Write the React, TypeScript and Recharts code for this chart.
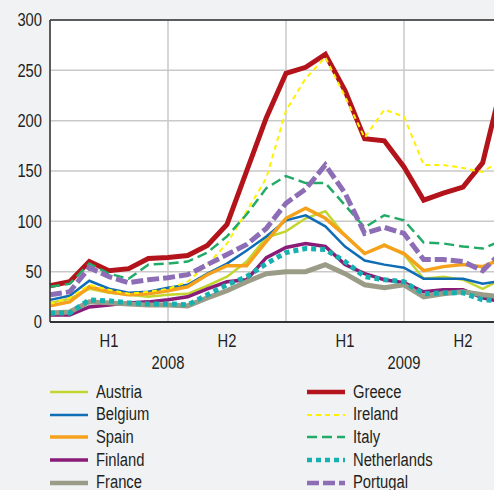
import { CartesianGrid, Line, LineChart, ReferenceLine, XAxis, YAxis } from 'recharts'

// monthly observations, Jan 2008 .. Dec 2009
const months = [
  '2008-01', '2008-02', '2008-03', '2008-04', '2008-05', '2008-06',
  '2008-07', '2008-08', '2008-09', '2008-10', '2008-11', '2008-12',
  '2009-01', '2009-02', '2009-03', '2009-04', '2009-05', '2009-06',
  '2009-07', '2009-08', '2009-09', '2009-10', '2009-11', '2009-12',
]

const austria = [19, 23, 33, 29, 27, 25, 27, 28, 36, 45, 60, 84, 90, 103, 110, 86, 68, 77, 67, 43, 45, 42, 33, 43]
const belgium = [22, 26, 41, 33, 29, 30, 34, 37, 48, 58, 71, 85, 101, 106, 95, 75, 61, 57, 54, 43, 43, 43, 38, 41]
const spain = [16, 20, 35, 30, 27, 28, 31, 35, 47, 56, 56, 80, 103, 113, 103, 86, 68, 76, 68, 51, 55, 57, 55, 63]
const finland = [7, 7, 15, 17, 19, 20, 22, 25, 33, 40, 42, 64, 74, 78, 75, 57, 48, 42, 39, 30, 32, 32, 24, 20]
const france = [9, 10, 20, 19, 18, 17, 17, 16, 24, 31, 40, 48, 50, 50, 57, 48, 37, 34, 37, 25, 28, 30, 27, 25]
const greece = [36, 40, 60, 51, 53, 63, 64, 66, 76, 97, 150, 203, 247, 253, 266, 230, 182, 180, 154, 121, 128, 134, 158, 238]
const ireland = [18, 24, 37, 32, 28, 30, 33, 40, 57, 78, 110, 143, 210, 242, 263, 224, 183, 211, 204, 156, 156, 153, 149, 162]
const italy = [35, 38, 58, 48, 43, 57, 58, 60, 69, 85, 107, 133, 145, 138, 138, 116, 94, 106, 101, 79, 78, 75, 73, 81]
const netherlands = [9, 9, 22, 21, 19, 18, 18, 17, 27, 37, 45, 58, 69, 73, 72, 60, 45, 42, 40, 28, 29, 29, 22, 21]
const portugal = [27, 30, 54, 45, 39, 42, 44, 47, 57, 67, 77, 93, 118, 132, 156, 128, 88, 94, 88, 62, 62, 60, 51, 70]

const yTicks = [0, 50, 100, 150, 200, 250, 300]
const halfTicks = [3, 9, 15, 21]
const halfLabels = ['H1', 'H2', 'H1', 'H2']
const yearTicks = [6, 18]
const yearLabels = ['2008', '2009']
const halfBoundaries = [6, 12, 18]

const series = [
  { key: 'Austria', values: austria, color: '#c3d62f', width: 2.5, dash: undefined },
  { key: 'Belgium', values: belgium, color: '#0f6db6', width: 2.5, dash: undefined },
  { key: 'Spain', values: spain, color: '#f6a11c', width: 3.5, dash: undefined },
  { key: 'Finland', values: finland, color: '#8a1c78', width: 3.5, dash: undefined },
  { key: 'France', values: france, color: '#9b9c87', width: 5, dash: undefined },
  { key: 'Greece', values: greece, color: '#b3131b', width: 5, dash: undefined },
  { key: 'Ireland', values: ireland, color: '#fff000', width: 2, dash: '5 4' },
  { key: 'Italy', values: italy, color: '#21ab67', width: 2.5, dash: '10 5' },
  { key: 'Netherlands', values: netherlands, color: '#14b1b0', width: 5, dash: '5 4' },
  { key: 'Portugal', values: portugal, color: '#8d6eb6', width: 5, dash: '12 4' },
]

const data = months.map((m, i) => {
  const row: Record<string, number | string> = { month: m, t: i }
  series.forEach((s) => {
    row[s.key] = s.values[i]
  })
  return row
})

// no condensed face installed, so squeeze Liberation Sans horizontally
const FONT = '"Liberation Sans", Arial, sans-serif'
const SQUEEZE = 0.82
const INK = '#231f20'

const narrowTick =
  (anchor: 'middle' | 'end', dy: string, fmt: (v: number) => string) =>
  (props: any) => {
    const { x, y, payload } = props
    return (
      <g transform={`translate(${x},${y})`}>
        <text
          transform={`scale(${SQUEEZE},1)`}
          textAnchor={anchor}
          dy={dy}
          fill={INK}
          fontSize={18}
          fontFamily={FONT}
        >
          {fmt(payload.value)}
        </text>
      </g>
    )
  }

const LegendItem = ({ s }: { s: (typeof series)[number] }) => (
  <div style={{ display: 'flex', alignItems: 'center', height: 22.6 }}>
    <svg width={38} height={8} style={{ marginRight: 8, flex: 'none' }}>
      <line
        x1={0}
        x2={38}
        y1={4}
        y2={4}
        stroke={s.color}
        strokeWidth={Math.min(s.width, 4.5)}
        strokeDasharray={s.dash}
      />
    </svg>
    <span
      style={{
        display: 'inline-block',
        whiteSpace: 'nowrap',
        transform: `scaleX(${SQUEEZE})`,
        transformOrigin: 'left center',
      }}
    >
      {s.key}
    </span>
  </div>
)

export default function App() {
  const left = series.slice(0, 5)
  const right = series.slice(5)
  return (
    <div
      style={{
        position: 'absolute',
        left: 0,
        top: 0,
        width: 494,
        height: 490,
        overflow: 'hidden',
        background: '#f1f2f4',
        fontFamily: FONT,
        color: INK,
      }}
    >
      <LineChart width={522} height={378} data={data} margin={{ top: 20, right: 0, left: 0, bottom: 0 }}>
        <CartesianGrid
          xAxisId="grid"
          stroke="#c9c9c9"
          strokeWidth={1.5}
          fill="#fff"
          horizontalValues={yTicks}
        />
        <XAxis
          dataKey="t"
          type="number"
          domain={[0, 24]}
          ticks={halfTicks}
          tick={narrowTick('middle', '0.71em', (v) => halfLabels[halfTicks.indexOf(v)])}
          tickLine={false}
          tickMargin={6}
          height={26}
          axisLine={{ stroke: '#333', strokeWidth: 2 }}
          interval={0}
        />
        <XAxis
          xAxisId="year"
          dataKey="t"
          type="number"
          domain={[0, 24]}
          ticks={yearTicks}
          tick={narrowTick('middle', '0.71em', (v) => yearLabels[yearTicks.indexOf(v)])}
          tickLine={false}
          axisLine={false}
          height={30}
          interval={0}
        />
        <XAxis
          xAxisId="grid"
          dataKey="t"
          type="number"
          domain={[0, 24]}
          ticks={halfBoundaries}
          height={0}
          hide
        />
        <YAxis
          domain={[0, 300]}
          ticks={yTicks}
          width={50}
          tickLine={false}
          axisLine={{ stroke: '#333', strokeWidth: 1.5 }}
          tick={narrowTick('end', '0.355em', (v) => String(v))}
          interval={0}
        />
        <ReferenceLine y={300} stroke="#333" strokeWidth={1.5} />
        {series.map((s) => (
          <Line
            key={s.key}
            dataKey={s.key}
            stroke={s.color}
            strokeWidth={s.width}
            strokeDasharray={s.dash}
            dot={false}
            activeDot={false}
            isAnimationActive={false}
          />
        ))}
      </LineChart>
      <div style={{ display: 'flex', marginTop: 3, fontSize: 18 }}>
        <div style={{ marginLeft: 50, width: 257 }}>
          {left.map((s) => (
            <LegendItem key={s.key} s={s} />
          ))}
        </div>
        <div>
          {right.map((s) => (
            <LegendItem key={s.key} s={s} />
          ))}
        </div>
      </div>
    </div>
  )
}
